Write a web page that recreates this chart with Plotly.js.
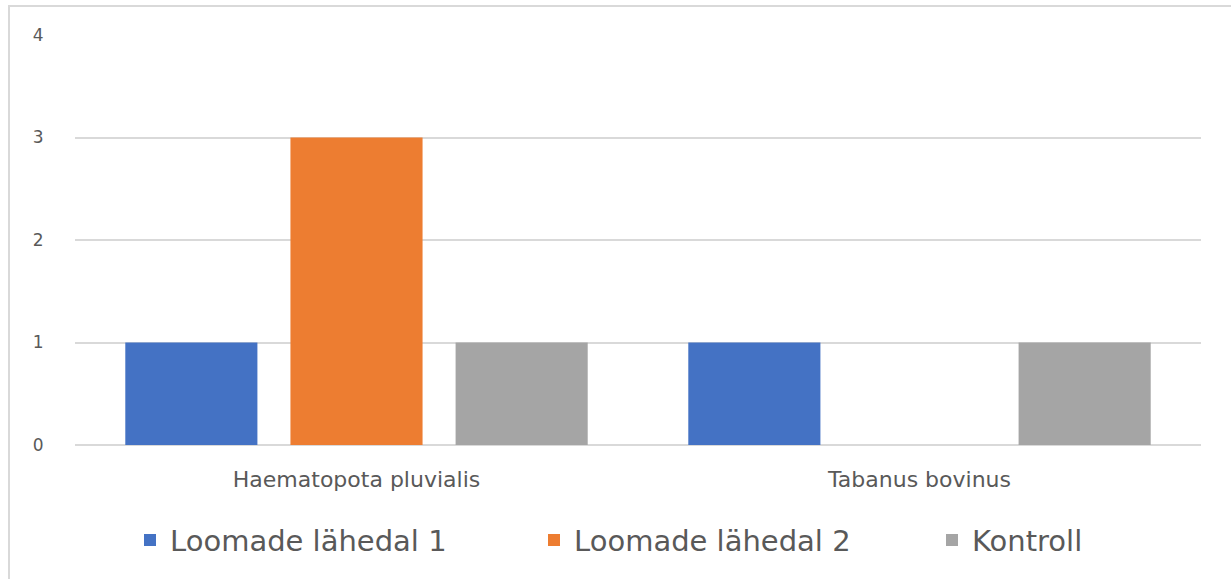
<!DOCTYPE html>
<html>
<head>
<meta charset="utf-8">
<script src="https://cdn.plot.ly/plotly-3.0.1.min.js"></script>
<style>
html,body{margin:0;padding:0;overflow:hidden;background:#fff;}
#chart{width:1231px;height:579px;}
#frame{position:absolute;left:8px;top:5px;width:1240px;height:600px;border:2px solid #d9d9d9;pointer-events:none;box-sizing:border-box;}
</style>
</head>
<body>
<div id="chart"></div>
<div id="frame"></div>
<script>
const categories = ["Haematopota pluvialis", "Tabanus bovinus"];
const seriesNames = ["Loomade lähedal 1", "Loomade lähedal 2", "Kontroll"];
const loomade1 = [1, 1];
const loomade2 = [3, 0];
const kontroll = [1, 1];
const yTicks = [0, 1, 2, 3, 4];
const colors = ["#4472C4", "#ED7D31", "#A5A5A5"];

const values = [loomade1, loomade2, kontroll];
const legendIds = ["legend", "legend2", "legend3"];
const traces = values.map((v, i) => ({
  type: "bar",
  name: seriesNames[i],
  x: categories,
  y: v,
  legend: legendIds[i],
  marker: {color: colors[i]},
  hoverinfo: "x+y+name"
}));

const font = "'DejaVu Sans', sans-serif";
const legendFont = {family: font, size: 29, color: "#595959"};
function legendAt(px) {
  return {
    orientation: "h",
    x: px / 1231, xanchor: "left", xref: "container",
    y: 0.067, yanchor: "middle", yref: "container",
    font: legendFont,
    bgcolor: "rgba(0,0,0,0)"
  };
}
const layout = {
  width: 1231,
  height: 579,
  margin: {l: 75, r: 30, t: 35, b: 134, autoexpand: false},
  paper_bgcolor: "#fff",
  plot_bgcolor: "#fff",
  barmode: "group",
  bargap: 0.12,
  bargroupgap: 0.2,
  showlegend: true,
  legend: legendAt(130),
  legend2: legendAt(534),
  legend3: legendAt(932),
  xaxis: {
    type: "category",
    showgrid: false,
    zeroline: false,
    showline: false,
    ticks: "outside", ticklen: 15, tickcolor: "rgba(0,0,0,0)",
    tickfont: {family: font, size: 22, color: "#595959"}
  },
  yaxis: {
    range: [0, 4],
    tickvals: yTicks,
    ticktext: yTicks.map(String),
    showgrid: true,
    gridcolor: "#d9d9d9",
    gridwidth: 1.5,
    zeroline: true,
    zerolinecolor: "#d9d9d9",
    zerolinewidth: 1.5,
    showline: false,
    ticks: "outside", ticklen: 27, tickcolor: "rgba(0,0,0,0)",
    tickfont: {family: font, size: 17, color: "#595959"}
  }
};

Plotly.newPlot("chart", traces, layout, {displayModeBar: false});
</script>
</body>
</html>
